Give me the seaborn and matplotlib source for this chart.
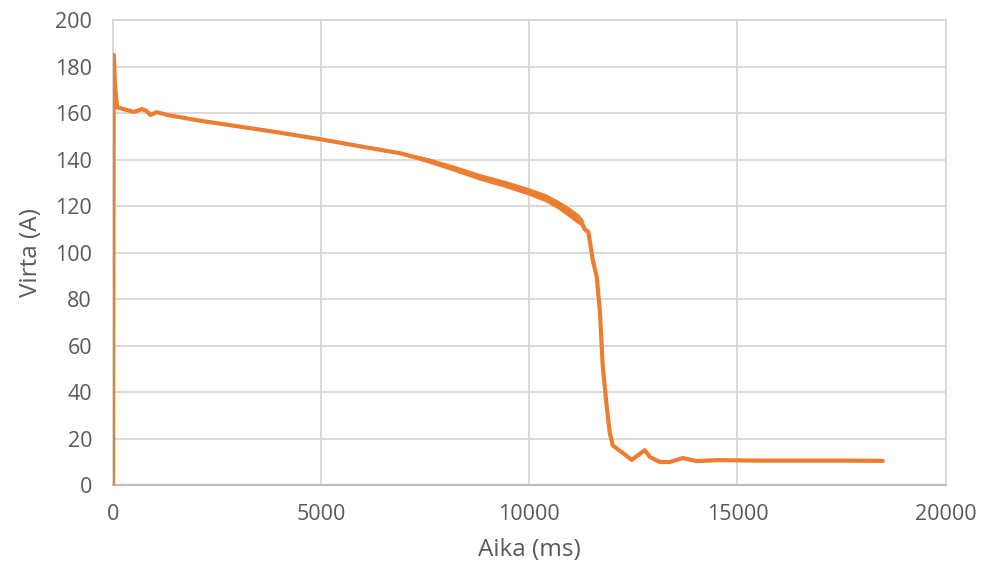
import numpy as np
import pandas as pd
import seaborn as sns
import matplotlib.pyplot as plt

# current vs time
aika_ms = [0, 20, 50, 100, 300, 500, 700, 800, 900, 1050, 1300, 2100, 3000, 4000,
           5000, 6000, 6900, 7600, 8200, 8800, 9400, 10000, 10400, 10700, 10950,
           11150, 11260, 11330, 11420, 11525, 11620, 11693, 11765, 11861, 11933,
           12005, 12245, 12461, 12773, 12900, 13133, 13373, 13685, 14022, 14500,
           15500, 16500, 17500, 18490]
virta_a = [0, 185, 172, 162.5, 161.5, 160.5, 161.7, 161, 159.2, 160.4, 159.2, 156.7,
           154.3, 151.6, 148.7, 145.5, 142.7, 139.5, 136.2, 132.6, 129.6, 126.2,
           123.5, 120.5, 117.5, 114.8, 113, 110, 108.8, 96.8, 89.5, 75.3, 50.8, 33.5,
           22.4, 17, 13.8, 10.8, 15, 12, 9.9, 9.9, 11.6, 10.3, 10.7, 10.5, 10.5,
           10.5, 10.4]

# noisy band before the drop (min / max envelope)
band_t = [7000, 7600, 8200, 8800, 9400, 10000, 10400, 10700, 10950, 11150, 11260]
band_hi = [142.4, 140.0, 136.9, 133.4, 130.5, 127.2, 124.6, 121.7, 118.9, 116.3, 114.0]
band_lo = [142.2, 139.0, 135.5, 131.8, 128.7, 125.2, 122.4, 119.3, 116.1, 113.3, 112.0]

x_ticks = [0, 5000, 10000, 15000, 20000]
y_ticks = [0, 20, 40, 60, 80, 100, 120, 140, 160, 180, 200]

ORANGE = "#ED7D31"
GRID = "#D9D9D9"
TXT = "#595959"

sns.set_theme(style="white")
plt.rcParams['font.family'] = ['Open Sans', 'DejaVu Sans']

df = pd.DataFrame({"Aika (ms)": aika_ms, "Virta (A)": virta_a})

fig = plt.figure(figsize=(9.82, 5.79), dpi=100)
ax = fig.add_axes([0.115, 0.1623, 0.848, 0.803])

ax.fill_between(band_t, band_lo, band_hi, color=ORANGE, lw=2.0, zorder=3)
sns.lineplot(data=df, x="Aika (ms)", y="Virta (A)", ax=ax, color=ORANGE, lw=3.0,
             estimator=None, sort=False, zorder=4,
             solid_joinstyle="round", solid_capstyle="round")

ax.set_xlim(0, 20000)
ax.set_ylim(0, 200)
ax.set_xticks(x_ticks)
ax.set_yticks(y_ticks)
ax.grid(True, color=GRID, lw=1.4)
ax.set_axisbelow(True)

for side in ["top", "right", "left"]:
    ax.spines[side].set_color(GRID)
    ax.spines[side].set_linewidth(1.4)
ax.spines["bottom"].set_color("#BFBFBF")
ax.spines["bottom"].set_linewidth(1.6)

ax.tick_params(axis="both", length=0, labelsize=15.5, labelcolor=TXT)
ax.tick_params(axis="x", pad=14)
ax.tick_params(axis="y", pad=15)
ax.set_xlabel("Aika (ms)", fontsize=17.5, color=TXT, labelpad=9)
ax.set_ylabel("Virta (A)", fontsize=17.5, color=TXT, labelpad=9)

fig.savefig("out.png", dpi=100)
